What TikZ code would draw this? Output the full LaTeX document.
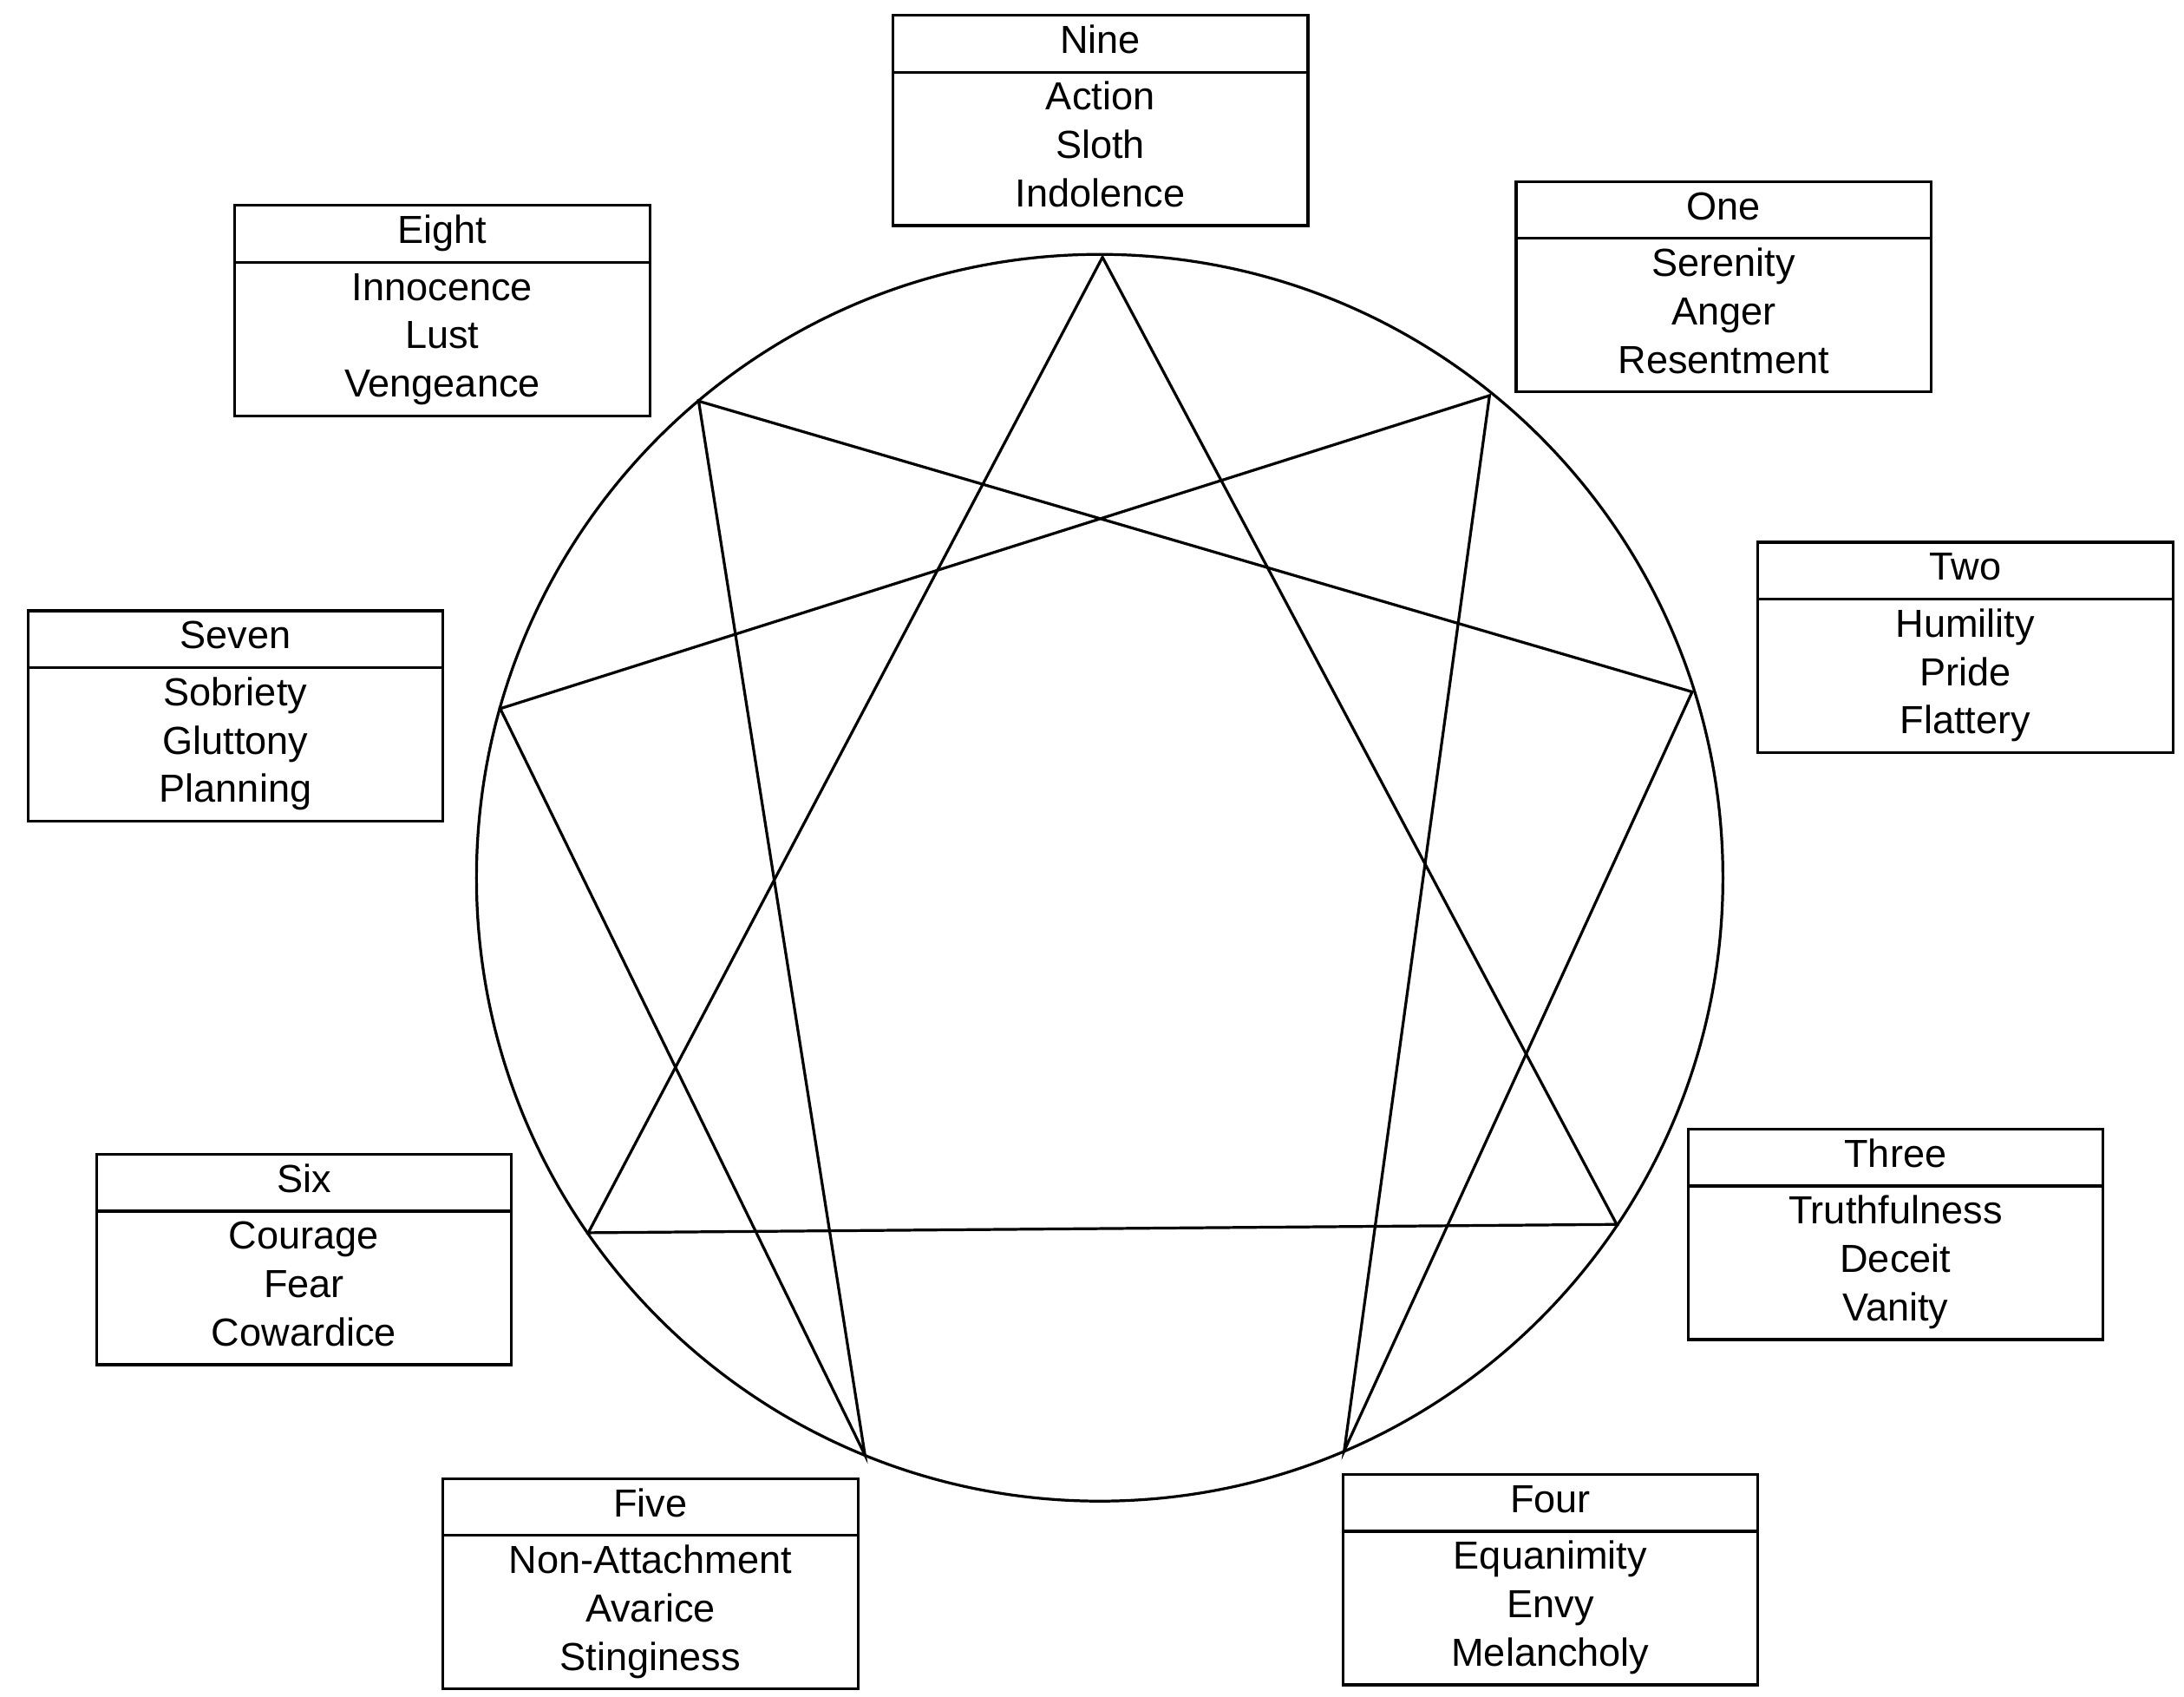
\documentclass[tikz,border=0pt]{standalone}
\usepackage{fontspec}
\setmainfont{Liberation Sans}
\usetikzlibrary{shapes.multipart}
\tikzset{
  ennbox/.style={rectangle split, rectangle split parts=2, draw, line width=1pt,
    anchor=north west, inner xsep=0pt, inner ysep=1pt, text width=148.5pt,
    align=center, font=\fontsize{14}{17.3}\selectfont},
  star/.style={line width=1pt}
}
\newcommand{\ennrows}[3]{\strut#1\\#2\\#3\strut}
\begin{document}
\begin{tikzpicture}[x=0.5pt,y=0.5pt,yscale=-1]
  \useasboundingbox (0,0) rectangle (1563,1214);

  % circle and points
  \draw [star] (787,628) circle [radius=446];
  \coordinate (p9) at (789,184);
  \coordinate (p1) at (1066,283);
  \coordinate (p2) at (1211,495);
  \coordinate (p3) at (1157,876);
  \coordinate (p4) at (962,1038);
  \coordinate (p5) at (619,1041);
  \coordinate (p6) at (421,882);
  \coordinate (p7) at (358,507);
  \coordinate (p8) at (500,287);

  % triangle and hexad
  \draw [star] (p9) -- (p3) -- (p6) -- cycle;
  \draw [star] (p1) -- (p4) -- (p2) -- (p8) -- (p5) -- (p7) -- cycle;

  % boxes
  \node [ennbox] (nine)  at (638,10)   {\strut Nine \nodepart{two} \ennrows{Action}{Sloth}{Indolence}};
  \node [ennbox] (one)   at (1084,129) {\strut One \nodepart{two} \ennrows{Serenity}{Anger}{Resentment}};
  \node [ennbox] (two)   at (1257,387) {\strut Two \nodepart{two} \ennrows{Humility}{Pride}{Flattery}};
  \node [ennbox] (three) at (1207,807) {\strut Three \nodepart{two} \ennrows{Truthfulness}{Deceit}{Vanity}};
  \node [ennbox] (four)  at (960,1054) {\strut Four \nodepart{two} \ennrows{Equanimity}{Envy}{Melancholy}};
  \node [ennbox] (five)  at (316,1057) {\strut Five \nodepart{two} \ennrows{Non-Attachment}{Avarice}{Stinginess}};
  \node [ennbox] (six)   at (68,825)   {\strut Six \nodepart{two} \ennrows{Courage}{Fear}{Cowardice}};
  \node [ennbox] (seven) at (19,436)   {\strut Seven \nodepart{two} \ennrows{Sobriety}{Gluttony}{Planning}};
  \node [ennbox] (eight) at (167,146)  {\strut Eight \nodepart{two} \ennrows{Innocence}{Lust}{Vengeance}};
\end{tikzpicture}
\end{document}
